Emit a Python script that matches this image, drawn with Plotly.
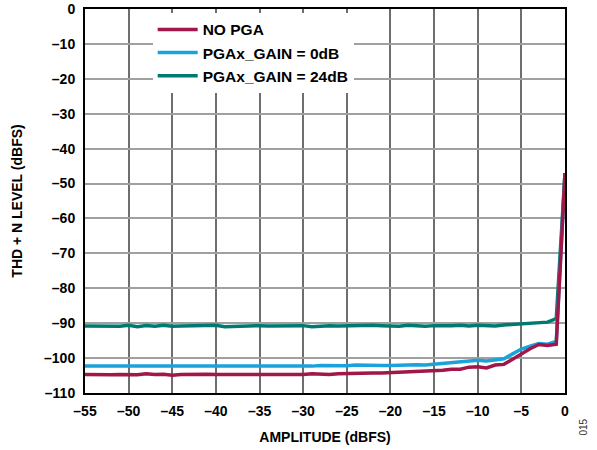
import plotly.graph_objects as go

amplitude = list(range(-55, 1))

no_pga = [-104.7, -104.8, -104.7, -104.8, -104.7, -104.7, -104.8, -104.5, -104.7, -104.6, -104.9,
          -104.7, -104.6, -104.7, -104.6, -104.7, -104.7, -104.6, -104.7, -104.7, -104.8,
          -104.6, -104.7, -104.6, -104.6, -104.7, -104.5, -104.6, -104.7, -104.5, -104.4,
          -104.3, -104.4, -104.3, -104.3, -104.2, -104.1, -104.0, -104.0, -103.8, -103.7,
          -103.5, -103.2, -103.2, -102.6, -102.5, -102.8, -102.0, -101.8, -100.3, -98.6,
          -97.3, -96.1, -96.4, -96.0, -47.0]

pga_0db = [-102.3, -102.3, -102.2, -102.3, -102.3, -102.2, -102.3, -102.2, -102.2, -102.3, -102.4,
           -102.3, -102.2, -102.2, -102.3, -102.2, -102.3, -102.3, -102.2, -102.3, -102.2,
           -102.3, -102.2, -102.2, -102.3, -102.2, -102.3, -102.1, -102.2, -102.1, -102.2,
           -102.0, -102.1, -102.2, -102.1, -102.1, -102.0, -102.0, -101.9, -102.0, -101.8,
           -101.6, -101.3, -101.1, -100.9, -100.6, -100.8, -100.4, -100.2, -98.8, -97.4,
           -96.6, -95.8, -96.0, -95.2, -47.0]

pga_24db = [-90.8, -90.8, -90.9, -90.8, -90.9, -90.6, -91.0, -90.7, -90.9, -90.6, -90.9,
            -90.8, -90.8, -90.7, -90.7, -90.6, -91.0, -90.9, -90.7, -90.8, -90.7,
            -90.8, -90.8, -90.9, -90.7, -90.7, -91.0, -90.8, -90.7, -90.8, -90.7,
            -90.8, -90.7, -90.6, -90.7, -90.8, -90.9, -90.6, -90.8, -90.9, -90.7,
            -90.8, -90.7, -90.6, -90.8, -90.6, -90.8, -90.8, -90.5, -90.3, -90.2,
            -90.0, -89.8, -89.7, -88.7, -47.0]

x_ticks = list(range(-55, 1, 5))
x_tick_labels = [("<b>–" + str(-v) + "</b>") if v < 0 else "<b>0</b>" for v in x_ticks]
y_ticks = list(range(-110, 1, 10))
y_tick_labels = [("<b>–" + str(-v) + "</b>") if v < 0 else "<b>0</b>" for v in y_ticks]

RED = "#A0174A"
BLUE = "#1AA3DB"
TEAL = "#007A70"

font = "Liberation Sans, Arial, sans-serif"

fig = go.Figure()
fig.add_trace(go.Scatter(x=amplitude, y=pga_24db, mode="lines", name="<b>PGAx_GAIN = 24dB</b>",
                         line=dict(color=TEAL, width=3.5)))
fig.add_trace(go.Scatter(x=amplitude, y=pga_0db, mode="lines", name="<b>PGAx_GAIN = 0dB</b>",
                         line=dict(color=BLUE, width=3.5)))
fig.add_trace(go.Scatter(x=amplitude, y=no_pga, mode="lines", name="<b>NO PGA</b>",
                         line=dict(color=RED, width=3.5)))

fig.update_layout(
    width=597, height=450,
    margin=dict(l=85, r=32, t=9, b=57, autoexpand=False),
    paper_bgcolor="white", plot_bgcolor="white",
    font=dict(family=font, size=14, color="black"),
    showlegend=True,
    legend=dict(x=0.141, y=0.99, xanchor="left", yanchor="top",
                bgcolor="white", borderwidth=0, traceorder="reversed",
                font=dict(family=font, size=15.5, color="black"),
                tracegroupgap=0, itemwidth=40),
    xaxis=dict(range=[-55, 0], tickvals=x_ticks, ticktext=x_tick_labels,
               showgrid=True, gridcolor="#6e6e6e", gridwidth=1.5,
               showline=True, linecolor="black", linewidth=2, mirror=True,
               ticks="", zeroline=False, automargin=False, ticklabelstandoff=4,
               tickfont=dict(family=font, size=14, color="black"),
               title=dict(text="<b>AMPLITUDE (dBFS)</b>", standoff=14,
                          font=dict(family=font, size=14, color="black"))),
    yaxis=dict(range=[-110, 0], tickvals=y_ticks, ticktext=y_tick_labels,
               showgrid=True, gridcolor="#a0a0a0", gridwidth=2,
               showline=True, linecolor="black", linewidth=2, mirror=True,
               ticks="", zeroline=False, automargin=False, ticklabelstandoff=5,
               tickfont=dict(family=font, size=14, color="black"),
               title=dict(text="<b>THD + N LEVEL (dBFS)</b>", standoff=18,
                          font=dict(family=font, size=14, color="black"))),
)

fig.add_annotation(text="015", xref="paper", yref="paper", x=1.055, y=-0.115,
                   showarrow=False, textangle=-90,
                   font=dict(family=font, size=10, color="#333333"))

fig.write_html("out.html", config={"displayModeBar": False},
               post_script="document.body.style.margin='0';")
